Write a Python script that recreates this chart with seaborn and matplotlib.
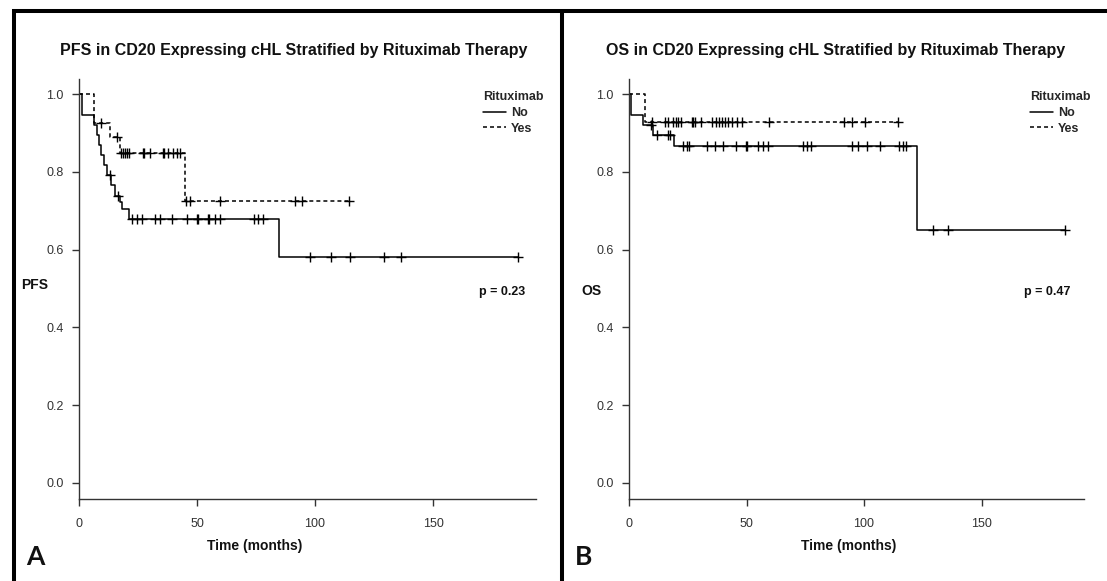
import numpy as np
import pandas as pd
import matplotlib
matplotlib.use("Agg")
import matplotlib.pyplot as plt
import seaborn as sns
from matplotlib.lines import Line2D

# step times (months) and survival estimates
pfs_no_t = [0, 1.3, 6.4, 7.5, 8.3, 9.5, 10.6, 12.0, 13.7, 15.1, 17.5, 18.3, 21.0, 84.8]
pfs_no_s = [1.0, 0.947, 0.921, 0.895, 0.869, 0.843, 0.817, 0.791, 0.765, 0.739, 0.722, 0.705, 0.679, 0.580]
pfs_no_cens = [13.0, 16.6, 22.5, 24.5, 26.8, 32.2, 34.3, 39.3, 45.6, 49.9, 50.3, 54.8, 55.2,
               57.6, 59.7, 74.2, 76.0, 77.8, 97.9, 106.8, 114.8, 129.4, 136.3, 186.1]

pfs_yes_t = [0, 6.5, 13.3, 17.2, 44.9]
pfs_yes_s = [1.0, 0.926, 0.889, 0.849, 0.725]
pfs_yes_cens = [9.5, 16.0, 17.6, 18.6, 19.4, 20.3, 21.3, 27.3, 27.7, 30.1, 35.5, 36.2, 37.9,
                39.7, 41.4, 42.8, 45.5, 47.0, 59.7, 91.5, 94.4, 114.4]

os_no_t = [0, 0.9, 6.1, 10.2, 19.3, 122.4]
os_no_s = [1.0, 0.947, 0.921, 0.895, 0.867, 0.650]
os_no_cens = [9.4, 11.8, 16.6, 17.4, 23.1, 24.5, 25.7, 33.0, 36.6, 39.9, 45.4, 49.8, 50.3,
              55.0, 57.1, 59.3, 74.2, 75.6, 77.3, 95.0, 97.6, 101.1, 106.8, 115.0, 116.4,
              117.8, 129.2, 135.9, 185.5]

os_yes_t = [0, 6.6]
os_yes_s = [1.0, 0.927]
os_yes_cens = [9.6, 15.3, 16.7, 18.9, 20.0, 21.0, 22.1, 26.7, 27.4, 28.1, 30.6, 35.5, 36.9,
               38.3, 39.4, 40.9, 42.3, 43.7, 45.8, 48.0, 59.6, 91.5, 94.8, 100.4, 114.6]

W, H = 1107, 581


def curve_frames(groups):
    steps, marks = [], []
    for name, t, s, c in groups:
        # curve runs on to the last follow-up
        steps.append(pd.DataFrame({"time": t + [max(c)], "surv": s + [s[-1]], "Rituximab": name}))
        idx = np.searchsorted(t, c, side="right") - 1
        marks.append(pd.DataFrame({"time": c, "surv": np.array(s)[idx], "Rituximab": name}))
    return pd.concat(steps, ignore_index=True), pd.concat(marks, ignore_index=True)


def draw_panel(ax, groups):
    steps, marks = curve_frames(groups)
    sns.lineplot(data=steps, x="time", y="surv", hue="Rituximab", style="Rituximab",
                 palette={"No": "black", "Yes": "black"}, dashes={"No": "", "Yes": (2.6, 2)},
                 drawstyle="steps-post", estimator=None, linewidth=1.1, legend=False, ax=ax)
    sns.scatterplot(data=marks, x="time", y="surv", marker="+", s=45, color="black",
                    linewidth=1.0, legend=False, ax=ax, zorder=3)
    ax.set_xlim(0, 193.6)
    ax.set_ylim(-0.04, 1.04)
    ax.set_xticks([0, 50, 100, 150])
    ax.set_yticks([0.0, 0.2, 0.4, 0.6, 0.8, 1.0])
    ax.set_yticklabels(["0.0", "0.2", "0.4", "0.6", "0.8", "1.0"])
    ax.set_xlabel("")
    ax.set_ylabel("")
    sns.despine(ax=ax)
    for sp in ["left", "bottom"]:
        ax.spines[sp].set_linewidth(1.0)
        ax.spines[sp].set_color("#333333")
    ax.tick_params(direction="out", length=5, width=1, colors="#333333", labelsize=9)
    ax.tick_params(axis="x", pad=9)
    ax.tick_params(axis="y", pad=6)


def add_legend(ax, fig, x_px):
    handles = [Line2D([], [], color="black", lw=1.1, label="No"),
               Line2D([], [], color="black", lw=1.1, ls=(0, (2.6, 2)), label="Yes")]
    ax.legend(handles=handles, title="Rituximab", loc="upper left",
              bbox_to_anchor=(x_px / W, 1 - 85 / H), bbox_transform=fig.transFigure,
              frameon=False, borderpad=0, prop={"weight": "bold", "size": 9},
              title_fontproperties={"weight": "bold", "size": 9},
              handlelength=1.85, handletextpad=0.35, labelspacing=0.3, alignment="left")


sns.set_theme(style="ticks")
plt.rcParams["font.family"] = ["Liberation Sans", "DejaVu Sans"]

fig = plt.figure(figsize=(W / 100, H / 100), dpi=100)
ax1 = fig.add_axes([79 / W, 82.5 / H, 457 / W, 420 / H])
ax2 = fig.add_axes([629 / W, 82.5 / H, 455 / W, 420 / H])

draw_panel(ax1, [("No", pfs_no_t, pfs_no_s, pfs_no_cens), ("Yes", pfs_yes_t, pfs_yes_s, pfs_yes_cens)])
draw_panel(ax2, [("No", os_no_t, os_no_s, os_no_cens), ("Yes", os_yes_t, os_yes_s, os_yes_cens)])
add_legend(ax1, fig, 477)
add_legend(ax2, fig, 1024)

bold = dict(weight="bold", ha="center", va="center", color="#111111")
fig.text(294 / W, 1 - 50 / H, "PFS in CD20 Expressing cHL Stratified by Rituximab Therapy", size=11.5, **bold)
fig.text(836 / W, 1 - 50 / H, "OS in CD20 Expressing cHL Stratified by Rituximab Therapy", size=11.5, **bold)
fig.text(255 / W, 1 - 546 / H, "Time (months)", size=10, **bold)
fig.text(849 / W, 1 - 546 / H, "Time (months)", size=10, **bold)
fig.text(35 / W, 1 - 285 / H, "PFS", size=10, **bold)
fig.text(591 / W, 1 - 291 / H, "OS", size=10, **bold)
fig.text(502 / W, 1 - 292 / H, "p = 0.23", size=9, **bold)
fig.text(1047 / W, 1 - 292 / H, "p = 0.47", size=9, **bold)
fig.text(35 / W, 1 - 557 / H, "A", size=19, family="Lato", **bold)
fig.text(584 / W, 1 - 557 / H, "B", size=19, family="Lato", **bold)

# black panel frame
frame = dict(transform=fig.transFigure, color="black", lw=2.9, solid_capstyle="butt")
fig.add_artist(Line2D([12 / W, 1], [1 - 10.5 / H] * 2, **frame))
fig.add_artist(Line2D([13.5 / W] * 2, [0, 1 - 9 / H], **frame))
fig.add_artist(Line2D([562 / W] * 2, [0, 1 - 9 / H], **frame))

fig.savefig("out.png", dpi=100)
